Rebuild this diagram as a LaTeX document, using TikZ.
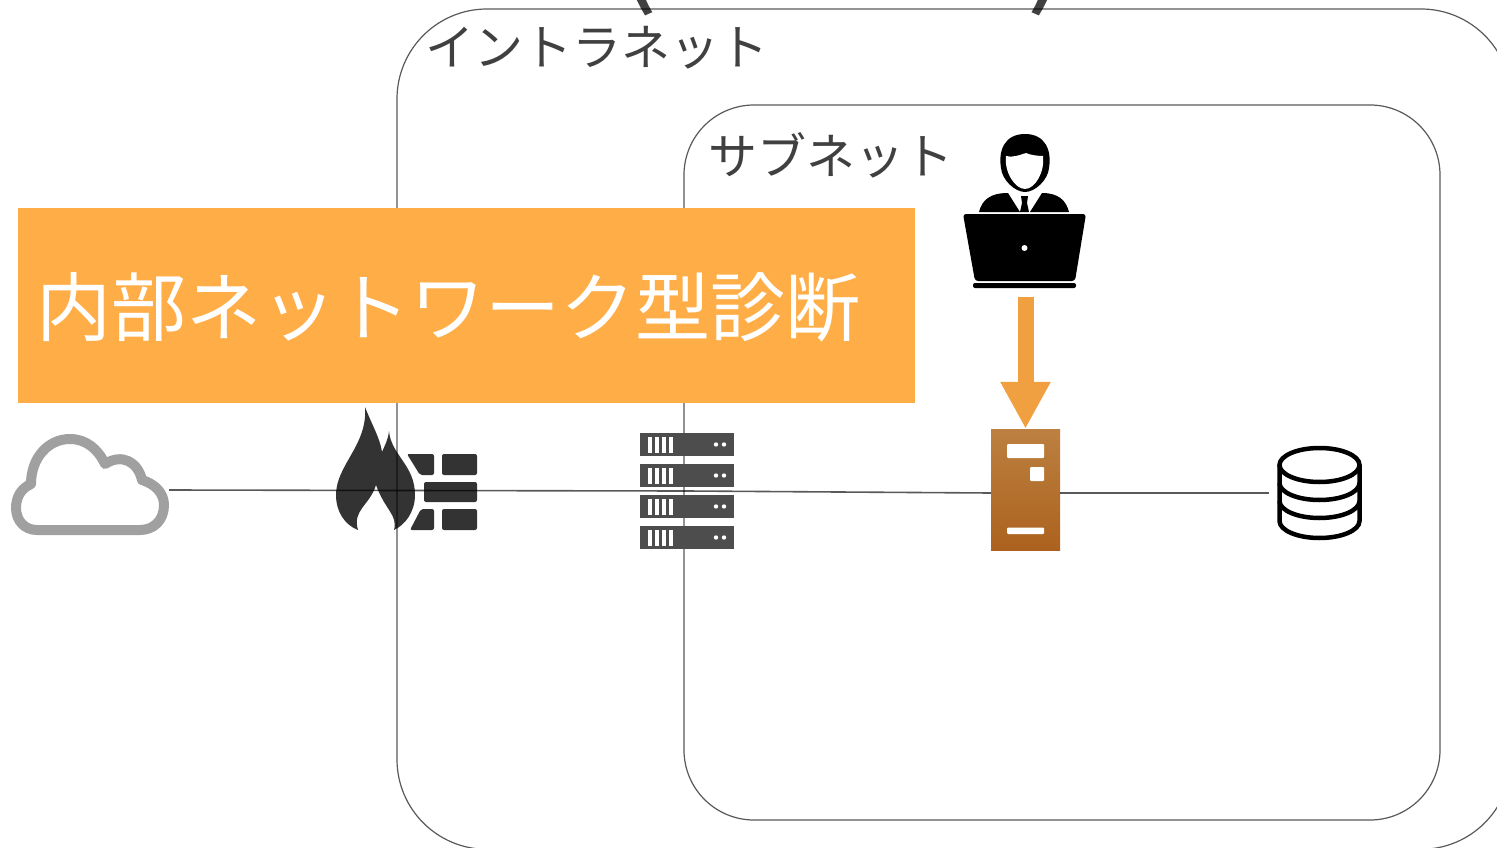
\documentclass[tikz,border=0pt]{standalone}
\usepackage{fontspec}
\setmainfont{Noto Sans CJK JP}
\definecolor{myorange}{RGB}{255,173,71}
\definecolor{myarrow}{RGB}{240,160,64}
\definecolor{mytext}{RGB}{64,64,64}
\definecolor{mygrey}{RGB}{160,160,160}
\definecolor{myflame}{RGB}{51,51,51}
\definecolor{myrack}{RGB}{77,77,77}
\definecolor{mytop}{RGB}{188,128,64}
\definecolor{mybottom}{RGB}{172,98,30}
\usetikzlibrary{arrows.meta,positioning}
\begin{document}
\begin{tikzpicture}[
  x=1pt,
  y=-1pt,
  netbox/.style={
    draw=black,
    draw opacity=0.65,
    line width=1.2pt,
    rounded corners=#1,
    rectangle,
    inner sep=0pt
    },
  netlabel/.style={
    text=mytext,
    font=\fontsize{49}{49}\selectfont,
    inner sep=0pt
    },
  iconnode/.style={
    rectangle,
    inner sep=0pt
    },
  netline/.style={
    draw=black,
    draw opacity=0.65,
    line width=1.6pt
    },
  rackpanel/.style={
    fill=myrack,
    rectangle,
    inner sep=0pt,
    minimum width=94pt,
    minimum height=23pt
    },
  slot/.style={
    fill=white,
    rounded corners=1pt
    },
  brick/.style={
    fill=myflame,
    rounded corners=2pt
    }
]

\useasboundingbox (0,0) rectangle (1497,848);
\clip (0,0) rectangle (1497,848);

% what is left of the title
\node[text=mytext, font=\fontsize{130}{130}\selectfont, anchor=base, inner sep=0pt] (parenl) at (636,-9) {(};
\node[text=mytext, font=\fontsize{130}{130}\selectfont, anchor=base, inner sep=0pt] (parenr) at (1048,-9) {)};

% firewall
\node[iconnode, minimum width=141pt, minimum height=20pt] (firewall) at (406.5,490.5) {};
\fill[myflame] (365,407)
  .. controls (372,425) and (380,438) .. (382,452)
  .. controls (385,445) and (388,440) .. (389,431)
  .. controls (391,455) and (415,465) .. (415,495)
  .. controls (415,512) and (405,525) .. (394,530)
  .. controls (398,515) and (385,510) .. (376,485)
  .. controls (370,505) and (352,510) .. (358,530)
  .. controls (345,525) and (336,512) .. (336,495)
  .. controls (336,465) and (368,445) .. (365,407) -- cycle;
\fill[brick] (407,454) -- (434,454) -- (434,475) -- (420,475) -- cycle;
\fill[brick] (442,454) rectangle (477,475);
\fill[brick] (424,482) rectangle (477,502);
\fill[brick] (410,530) -- (421,509) -- (434,509) -- (434,530) -- cycle;
\fill[brick] (442,509) rectangle (477,530);

% networks
\node[netbox=90pt, minimum width=1114pt, minimum height=840.3pt] (intranet) at (954,429.15) {};
\node[netbox=70pt, minimum width=756pt, minimum height=715pt] (subnet) at (1062,462.5) {};
\node[netlabel, below right=18pt and 29pt] (intranetlabel) at (intranet.north west) {イントラネット};
\node[netlabel, below right=28pt and 25pt] (subnetlabel) at (subnet.north west) {サブネット};

% rack
\foreach \Pos in {444.5,475.5,506.5,537.5}{
  \node[rackpanel] (panel\Pos) at (687,\Pos) {};
  \foreach \Bar in {648,655,662,669}
    \fill[white] (\Bar,\Pos-8) rectangle (\Bar+4,\Pos+8);
  \fill[white] (716,\Pos) circle (2.2);
  \fill[white] (724,\Pos) circle (2.2);
}
\node[iconnode, minimum width=94pt, minimum height=116pt] (rack) at (687,491) {};

% cloud
\node[iconnode, minimum width=158pt, minimum height=90pt] (cloud) at (90,490) {};
\draw[mygrey, line width=10pt, line join=round] (37,530)
  .. controls (24,530) and (16,520) .. (16,508)
  .. controls (16,496) and (22,488) .. (31,484)
  .. controls (31,458) and (48,439) .. (70,439)
  .. controls (86,439) and (98,449) .. (105,464)
  .. controls (122,453) and (138,462) .. (142,480)
  .. controls (155,484) and (164,493) .. (164,505)
  .. controls (164,520) and (154,530) .. (140,530) -- cycle;

% database
\node[iconnode, minimum width=82pt, minimum height=92pt] (db) at (1310,493) {};
\begin{scope}[line width=4.5pt, black]
\draw (1319.5,465) ellipse (40 and 17);
\draw (1279.5,465) -- (1279.5,521) arc[start angle=180, end angle=360, x radius=40, y radius=-17] -- (1359.5,465);
\draw (1279.5,483) arc[start angle=180, end angle=360, x radius=40, y radius=-17];
\draw (1279.5,501) arc[start angle=180, end angle=360, x radius=40, y radius=-17];
\end{scope}

% server
\node[iconnode, top color=mytop, bottom color=mybottom, minimum width=69pt, minimum height=121pt] (server) at (1025.5,489.5) {};
\fill[slot] (1007,444) rectangle (1044,458);
\fill[slot] (1030,467) rectangle (1044,481);
\fill[slot] (1007,527.5) rectangle (1044,534);

\draw[netline] (cloud.east) -- (firewall.center) -- (rack.center) -- (server.west |- db.west);
\draw[netline] (server.east |- db.west) -- (db.west);

% user with laptop
\node[iconnode, minimum width=124pt, minimum height=155pt] (user) at (1025.5,211) {};
\fill[black] (1001,168)
  .. controls (998,150) and (1005,134) .. (1025,134)
  .. controls (1045,134) and (1052,150) .. (1049,168)
  .. controls (1048,180) and (1035,192) .. (1025,192)
  .. controls (1015,192) and (1002,180) .. (1001,168) -- cycle;
\fill[white] (1006,156)
  .. controls (1012,158) and (1020,155) .. (1026,153)
  .. controls (1030,155) and (1038,156) .. (1043,156)
  .. controls (1045,172) and (1035,189) .. (1025,189)
  .. controls (1015,189) and (1004,172) .. (1006,156) -- cycle;
\fill[black] (979,212) .. controls (982,200) and (990,193) .. (1008,193) -- (1020,212) -- cycle;
\fill[black] (1069,212) .. controls (1066,200) and (1058,193) .. (1042,193) -- (1030,212) -- cycle;
\fill[black] (1021,196) -- (1028,196) -- (1027,203) -- (1029,212) -- (1020,212) -- (1022,203) -- cycle;
\fill[black, rounded corners=3pt] (963,214) -- (1086,214) -- (1075,281) -- (975,281) -- cycle;
\fill[black, rounded corners=2pt] (973,283) rectangle (1076,288);
\fill[white] (1024.5,248) circle (3);

\draw[myarrow, line width=16pt, shorten <=8pt, -{Triangle[length=47pt,width=47pt]}] (user.south) -- (server.north);

% banner
\node[fill=myorange, minimum width=897pt, minimum height=195pt, inner sep=0pt] (banner) at (466.5,305.5) {};
\node[text=white, font=\fontsize{75}{75}\selectfont, inner sep=0pt, right=18pt, yshift=-2pt] (bannertext) at (banner.west) {内部ネットワーク型診断};

\end{tikzpicture}
\end{document}
